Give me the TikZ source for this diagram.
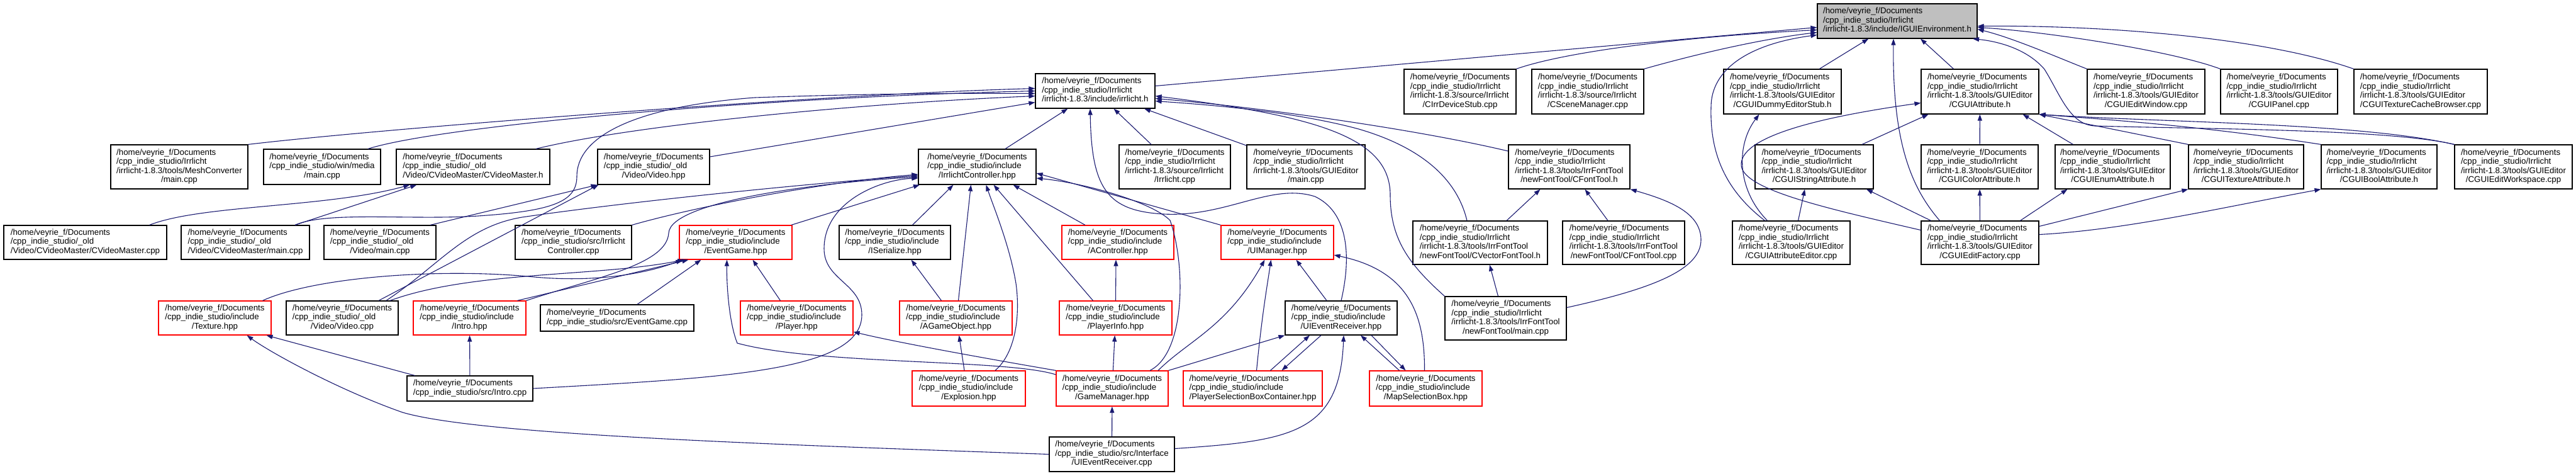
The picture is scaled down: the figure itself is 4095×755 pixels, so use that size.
\documentclass[tikz,border=0pt]{standalone}
\usepackage{fontspec}
\setmainfont{Liberation Sans}
\usetikzlibrary{arrows.meta,calc}
\definecolor{edgeblue}{HTML}{191970}
\definecolor{rootgray}{HTML}{BFBFBF}
\definecolor{redb}{HTML}{FF0000}
\newcommand{\hdoc}{/home/veyrie\_f/Documents}
\newcommand{\cirr}{/cpp\_indie\_studio/Irrlicht}
\newcommand{\cinc}{/cpp\_indie\_studio/include}
\newcommand{\cold}{/cpp\_indie\_studio/\_old}
\newcommand{\cgui}{/irrlicht-1.8.3/tools/GUIEditor}
\newcommand{\cfont}{/irrlicht-1.8.3/tools/IrrFontTool}
\newcommand{\lastl}[1]{\multicolumn{1}{@{}c@{}}{#1}}
\newcommand{\nlbl}[1]{\begin{tabular}{@{}l@{}}#1\end{tabular}}
\newcommand{\mkbox}[7]{\node[#1, minimum width={#4pt-#3pt}, minimum height={#6pt-#5pt}] (#2) at ({(#3+#4)/2},{(#5+#6)/2}) {\nlbl{#7}};}
\begin{document}
\begin{tikzpicture}[x=1pt,y=-1pt,
  nbox/.style={draw=black, fill=white, line width=1.2pt, inner sep=0pt, font=\fontsize{13.3}{14.5}\selectfont},
  rbox/.style={nbox, draw=redb},
  gbox/.style={nbox, fill=rootgray},
  dep/.style={draw=edgeblue, line width=1.1pt, -{Triangle[length=10pt,width=7pt]}}]
\useasboundingbox (0,0) rectangle (4095,755);
% row 1
\mkbox{gbox}{root}{2889}{3143}{6}{61}{\hdoc\\\cirr\\\lastl{/irrlicht-1.8.3/include/IGUIEnvironment.h}}
% row 2
\mkbox{nbox}{irrlicht}{1646}{1836}{117}{172}{\hdoc\\\cirr\\\lastl{/irrlicht-1.8.3/include/irrlicht.h}}
\mkbox{nbox}{devstub}{2232}{2410}{110}{181}{\hdoc\\\cirr\\/irrlicht-1.8.3/source/Irrlicht\\\lastl{/CIrrDeviceStub.cpp}}
\mkbox{nbox}{scenemgr}{2435}{2613}{110}{181}{\hdoc\\\cirr\\/irrlicht-1.8.3/source/Irrlicht\\\lastl{/CSceneManager.cpp}}
\mkbox{nbox}{dummy}{2740}{2927}{110}{181}{\hdoc\\\cirr\\\cgui\\\lastl{/CGUIDummyEditorStub.h}}
\mkbox{nbox}{guiattr}{3054}{3241}{110}{181}{\hdoc\\\cirr\\\cgui\\\lastl{/CGUIAttribute.h}}
\mkbox{nbox}{editwin}{3318}{3505}{110}{181}{\hdoc\\\cirr\\\cgui\\\lastl{/CGUIEditWindow.cpp}}
\mkbox{nbox}{panel}{3530}{3716}{110}{181}{\hdoc\\\cirr\\\cgui\\\lastl{/CGUIPanel.cpp}}
\mkbox{nbox}{texcache}{3742}{3954}{110}{181}{\hdoc\\\cirr\\\cgui\\\lastl{/CGUITextureCacheBrowser.cpp}}
% row 3
\mkbox{nbox}{meshconv}{176}{394}{230}{300}{\hdoc\\\cirr\\/irrlicht-1.8.3/tools/MeshConverter\\\lastl{/main.cpp}}
\mkbox{nbox}{winmain}{419}{605}{237}{293}{\hdoc\\/cpp\_indie\_studio/win/media\\\lastl{/main.cpp}}
\mkbox{nbox}{cvmh}{630}{874}{237}{293}{\hdoc\\\cold\\\lastl{/Video/CVideoMaster/CVideoMaster.h}}
\mkbox{nbox}{videohpp}{950}{1128}{237}{293}{\hdoc\\\cold\\\lastl{/Video/Video.hpp}}
\mkbox{nbox}{irrctrl}{1460}{1647}{237}{293}{\hdoc\\\cinc\\\lastl{/IrrlichtController.hpp}}
\mkbox{nbox}{irrcpp}{1779}{1956}{230}{300}{\hdoc\\\cirr\\/irrlicht-1.8.3/source/Irrlicht\\\lastl{/Irrlicht.cpp}}
\mkbox{nbox}{guimain}{1982}{2170}{230}{300}{\hdoc\\\cirr\\\cgui\\\lastl{/main.cpp}}
\mkbox{nbox}{cfonth}{2398}{2591}{230}{300}{\hdoc\\\cirr\\\cfont\\\lastl{/newFontTool/CFontTool.h}}
\mkbox{nbox}{strattr}{2790}{2978}{230}{300}{\hdoc\\\cirr\\\cgui\\\lastl{/CGUIStringAttribute.h}}
\mkbox{nbox}{colattr}{3054}{3240}{230}{300}{\hdoc\\\cirr\\\cgui\\\lastl{/CGUIColorAttribute.h}}
\mkbox{nbox}{enumattr}{3267}{3450}{230}{300}{\hdoc\\\cirr\\\cgui\\\lastl{/CGUIEnumAttribute.h}}
\mkbox{nbox}{texattr}{3479}{3662}{230}{300}{\hdoc\\\cirr\\\cgui\\\lastl{/CGUITextureAttribute.h}}
\mkbox{nbox}{boolattr}{3690}{3874}{230}{300}{\hdoc\\\cirr\\\cgui\\\lastl{/CGUIBoolAttribute.h}}
\mkbox{nbox}{workspace}{3902}{4089}{230}{300}{\hdoc\\\cirr\\\cgui\\\lastl{/CGUIEditWorkspace.cpp}}
% row 4
\mkbox{nbox}{cvmcpp}{6}{265}{358}{412}{\hdoc\\\cold\\\lastl{/Video/CVideoMaster/CVideoMaster.cpp}}
\mkbox{nbox}{cvmmain}{288}{492}{358}{412}{\hdoc\\\cold\\\lastl{/Video/CVideoMaster/main.cpp}}
\mkbox{nbox}{vmain}{515}{693}{358}{412}{\hdoc\\\cold\\\lastl{/Video/main.cpp}}
\mkbox{nbox}{srcctrl}{819}{1004}{358}{412}{\hdoc\\/cpp\_indie\_studio/src/Irrlicht\\\lastl{Controller.cpp}}
\mkbox{rbox}{eventgame}{1080}{1259}{358}{412}{\hdoc\\\cinc\\\lastl{/EventGame.hpp}}
\mkbox{nbox}{iserial}{1334}{1511}{358}{412}{\hdoc\\\cinc\\\lastl{/ISerialize.hpp}}
\mkbox{rbox}{actrl}{1688}{1866}{358}{412}{\hdoc\\\cinc\\\lastl{/AController.hpp}}
\mkbox{rbox}{uimgr}{1941}{2120}{358}{412}{\hdoc\\\cinc\\\lastl{/UIManager.hpp}}
\mkbox{nbox}{vecfont}{2246}{2460}{351}{420}{\hdoc\\\cirr\\\cfont\\\lastl{/newFontTool/CVectorFontTool.h}}
\mkbox{nbox}{cfontcpp}{2484}{2678}{351}{420}{\hdoc\\\cirr\\\cfont\\\lastl{/newFontTool/CFontTool.cpp}}
\mkbox{nbox}{attred}{2754}{2941}{351}{420}{\hdoc\\\cirr\\\cgui\\\lastl{/CGUIAttributeEditor.cpp}}
\mkbox{nbox}{editfac}{3054}{3241}{351}{420}{\hdoc\\\cirr\\\cgui\\\lastl{/CGUIEditFactory.cpp}}
% row 5
\mkbox{rbox}{texture}{252}{431}{478}{532}{\hdoc\\\cinc\\\lastl{/Texture.hpp}}
\mkbox{nbox}{videocpp}{455}{633}{478}{532}{\hdoc\\\cold\\\lastl{/Video/Video.cpp}}
\mkbox{rbox}{introhpp}{657}{836}{478}{532}{\hdoc\\\cinc\\\lastl{/Intro.hpp}}
\mkbox{nbox}{srcevent}{859}{1103}{484}{526}{\hdoc\\\lastl{/cpp\_indie\_studio/src/EventGame.cpp}}
\mkbox{rbox}{player}{1177}{1356}{478}{532}{\hdoc\\\cinc\\\lastl{/Player.hpp}}
\mkbox{rbox}{agame}{1430}{1609}{478}{532}{\hdoc\\\cinc\\\lastl{/AGameObject.hpp}}
\mkbox{rbox}{pinfo}{1684}{1863}{478}{532}{\hdoc\\\cinc\\\lastl{/PlayerInfo.hpp}}
\mkbox{nbox}{uievh}{2043}{2221}{478}{532}{\hdoc\\\cinc\\\lastl{/UIEventReceiver.hpp}}
\mkbox{nbox}{fontmain}{2297}{2490}{471}{540}{\hdoc\\\cirr\\\cfont\\\lastl{/newFontTool/main.cpp}}
% row 6
\mkbox{nbox}{introcpp}{647}{847}{597}{637}{\hdoc\\\lastl{/cpp\_indie\_studio/src/Intro.cpp}}
\mkbox{rbox}{explosion}{1450}{1630}{589}{645}{\hdoc\\\cinc\\\lastl{/Explosion.hpp}}
\mkbox{rbox}{gamemgr}{1679}{1857}{589}{645}{\hdoc\\\cinc\\\lastl{/GameManager.hpp}}
\mkbox{rbox}{psbc}{1881}{2102}{589}{645}{\hdoc\\\cinc\\\lastl{/PlayerSelectionBoxContainer.hpp}}
\mkbox{rbox}{mapsel}{2177}{2356}{589}{645}{\hdoc\\\cinc\\\lastl{/MapSelectionBox.hpp}}
% row 7
\mkbox{nbox}{uievcpp}{1668}{1867}{694}{749}{\hdoc\\/cpp\_indie\_studio/src/Interface\\\lastl{/UIEventReceiver.cpp}}

% ---- edges into IGUIEnvironment.h
\draw[dep] ($(irrlicht.east)+(0,-8)$) -- ($(root.west)+(0,10)$);
\draw[dep] (devstub.north east) .. controls (2480,85) and (2650,60) .. ($(root.west)+(0,14)$);
\draw[dep] (scenemgr.north east) .. controls (2700,85) and (2800,62) .. ($(root.west)+(0,18)$);
\draw[dep] ($(attred.north)+(-42,0)$) .. controls (2740,300) and (2718,240) .. (2720,170) .. controls (2720,110) and (2780,70) .. ($(root.west)+(0,22)$);
\draw[dep] (dummy) -- (root);
\draw[dep] ($(guiattr.north)+(-42,0)$) -- ($(root.south)+(37,0)$);
\draw[dep] ($(editfac.north)+(-64,0)$) .. controls (3040,300) and (3008,230) .. ($(root.south)+(-6,0)$);
\draw[dep] (workspace.north west) .. controls (3800,205) and (3500,205) .. (3330,200) .. controls (3290,198) and (3275,150) .. (3250,110) .. controls (3220,75) and (3170,65) .. ($(root.south)+(120,0)$);
\draw[dep] (editwin.north west) .. controls (3280,95) and (3200,60) .. ($(root.east)+(0,13)$);
\draw[dep] (panel.north west) .. controls (3450,80) and (3250,50) .. ($(root.east)+(0,10)$);
\draw[dep] (texcache.north west) .. controls (3600,60) and (3350,40) .. ($(root.east)+(0,8)$);

% ---- edges into irrlicht.h
\draw[dep] (meshconv.north east) .. controls (600,205) and (1300,150) .. ($(irrlicht.west)+(0,-4)$);
\draw[dep] ($(winmain.north)+(73,0)$) .. controls (700,200) and (1200,155) .. (irrlicht.west);
\draw[dep] ($(cvmmain.north)+(79,0)$) .. controls (520,335) and (650,350) .. (760,343) .. controls (880,335) and (917,320) .. (917,280) .. controls (917,220) and (1000,170) .. (1200,155) .. controls (1400,148) and (1550,148) .. ($(irrlicht.west)+(0,4)$);
\draw[dep] ($(cvmh.north)+(100,0)$) .. controls (1000,200) and (1350,165) .. ($(irrlicht.west)+(0,8)$);
\draw[dep] ($(videohpp.east)+(0,-16)$) -- ($(irrlicht.west)+(0,18)$);
\draw[dep] (irrctrl) -- (irrlicht);
\draw[dep] (irrcpp) -- (irrlicht);
\draw[dep] (guimain) -- (irrlicht);
\draw[dep] (uievh.north) .. controls (2150,400) and (2140,335) .. (2090,312) .. controls (2020,290) and (1950,345) .. (1850,340) .. controls (1760,335) and (1735,300) .. ($(irrlicht.south)+(-8,0)$);
\draw[dep] ($(cfonth.west)+(0,-25)$) .. controls (2250,205) and (2000,170) .. ($(irrlicht.east)+(0,12)$);
\draw[dep] (fontmain.north west) .. controls (2240,420) and (2210,380) .. (2210,310) .. controls (2210,220) and (2100,185) .. ($(irrlicht.east)+(0,8)$);
\draw[dep] ($(vecfont.north)+(-21,0)$) .. controls (2320,300) and (2280,240) .. (2160,205) .. controls (2050,175) and (1900,165) .. ($(irrlicht.east)+(0,16)$);

% ---- edges into IrrlichtController.hpp
\draw[dep] (srcctrl.north east) .. controls (1100,330) and (1300,290) .. ($(irrctrl.west)+(0,12)$);
\draw[dep] ($(videocpp.north)+(70,0)$) .. controls (700,420) and (740,360) .. (830,345) .. controls (1000,320) and (1300,290) .. ($(irrctrl.west)+(0,14)$);
\draw[dep] (introhpp.north east) .. controls (950,440) and (1060,420) .. (1063,370) .. controls (1066,320) and (1300,290) .. ($(irrctrl.west)+(0,16)$);
\draw[dep] (introcpp.east) .. controls (1150,600) and (1370,590) .. (1370,500) .. controls (1370,450) and (1310,445) .. (1310,395) .. controls (1310,320) and (1400,285) .. ($(irrctrl.west)+(0,18)$);
\draw[dep] (eventgame) -- (irrctrl);
\draw[dep] ($(iserial.north)+(28,0)$) -- ($(irrctrl.south)+(-38,0)$);
\draw[dep] ($(agame.north)+(4,0)$) -- ($(irrctrl.south)+(-10,0)$);
\draw[dep] ($(explosion.north)+(42,0)$) .. controls (1615,560) and (1622,500) .. (1615,450) .. controls (1605,390) and (1580,330) .. ($(irrctrl.south)+(14,0)$);
\draw[dep] ($(pinfo.north)+(-36,0)$) -- ($(irrctrl.south)+(26,0)$);
\draw[dep] ($(actrl.north)+(-52,0)$) -- ($(irrctrl.south)+(57,0)$);
\draw[dep] (uimgr.north west) -- ($(irrctrl.east)+(0,10)$);
\draw[dep] ($(gamemgr.north)+(60,0)$) .. controls (1885,560) and (1885,420) .. (1860,350) .. controls (1830,320) and (1720,290) .. ($(irrctrl.east)+(0,18)$);

% ---- edges into EventGame.hpp
\draw[dep] ($(texture.north)+(76,0)$) .. controls (500,440) and (700,425) .. (850,440) .. controls (960,450) and (1040,430) .. ($(eventgame.south west)+(5,0)$);
\draw[dep] ($(videocpp.north)+(76,0)$) .. controls (750,430) and (950,440) .. ($(eventgame.south west)+(8,0)$);
\draw[dep] ($(introhpp.north)+(76,0)$) -- ($(eventgame.south west)+(15,0)$);
\draw[dep] ($(srcevent.north)+(32,0)$) -- ($(eventgame.south)+(-55,0)$);
\draw[dep] ($(player.north)+(-26,0)$) -- ($(eventgame.south)+(27,0)$);
\draw[dep] ($(gamemgr.west)+(0,-22)$) .. controls (1600,570) and (1300,580) .. (1172,545) .. controls (1160,515) and (1155,460) .. ($(eventgame.south)+(-14,0)$);

% ---- other edges, left part
\draw[dep] (gamemgr.north west) .. controls (1600,575) and (1430,545) .. ($(player.east)+(0,22)$);
\draw[dep] ($(introcpp.north west)+(13,0)$) -- ($(texture.south)+(82,0)$);
\draw[dep] (uievcpp.west) .. controls (1200,705) and (760,690) .. (640,655) .. controls (540,620) and (430,560) .. ($(texture.south)+(51,0)$);
\draw[dep] (introcpp) -- (introhpp);
\draw[dep] ($(vmain.north)+(80,0)$) -- (videohpp.south west);
\draw[dep] ($(videocpp.north)+(58,0)$) -- ($(videohpp.south west)+(2,0)$);
\draw[dep] ($(cvmcpp.north)+(102,0)$) .. controls (320,325) and (520,330) .. ($(cvmh.south west)+(22,0)$);
\draw[dep] ($(cvmmain.north)+(79,0)$) -- ($(cvmh.south west)+(33,0)$);
\draw[dep] ($(explosion.north)+(-7,0)$) -- ($(agame.south)+(5,0)$);
\draw[dep] ($(agame.north)+(-23,0)$) -- ($(iserial.south)+(26,0)$);
\draw[dep] (pinfo.north) -- ($(actrl.south)+(-3,0)$);
\draw[dep] (gamemgr) -- (pinfo);
\draw[dep] (uievcpp) -- (gamemgr);

% ---- UIManager / UIEventReceiver
\draw[dep] ($(gamemgr.north)+(73,0)$) .. controls (1890,540) and (1950,520) .. ($(uimgr.south)+(-20,0)$);
\draw[dep] ($(psbc.north)+(6,0)$) .. controls (2006,500) and (2015,450) .. ($(uimgr.south)+(-10,0)$);
\draw[dep] ($(uievh.north)+(-23,0)$) -- ($(uimgr.south)+(30,0)$);
\draw[dep] ($(mapsel.north)+(-2,0)$) .. controls (2265,500) and (2240,430) .. ($(uimgr.east)+(0,20)$);
\draw[dep] (gamemgr.north east) -- (uievh.south west);
\draw[dep] ($(psbc.north)+(28,0)$) -- ($(uievh.south)+(-50,0)$);
\draw[dep] ($(uievh.south)+(-32,0)$) -- ($(psbc.north)+(46,0)$);
\draw[dep] ($(uievcpp.east)+(0,-9)$) .. controls (2050,700) and (2130,690) .. ($(uievh.south)+(4,0)$);
\draw[dep] ($(mapsel.north)+(-42,0)$) -- ($(uievh.south)+(31,0)$);
\draw[dep] ($(uievh.south)+(48,0)$) -- ($(mapsel.north)+(-32,0)$);

% ---- font tool
\draw[dep] ($(vecfont.north)+(42,0)$) -- ($(cfonth.south)+(-46,0)$);
\draw[dep] ($(cfontcpp.north)+(-25,0)$) -- ($(cfonth.south)+(25,0)$);
\draw[dep] ($(fontmain.east)+(0,-17)$) .. controls (2620,460) and (2705,430) .. (2704,380) .. controls (2703,340) and (2660,320) .. (cfonth.south east);
\draw[dep] ($(fontmain.north)+(-12,0)$) -- ($(vecfont.south)+(15,0)$);

% ---- GUI editor
\draw[dep] ($(strattr.north)+(76,0)$) -- ($(guiattr.south)+(-82,0)$);
\draw[dep] (colattr) -- (guiattr);
\draw[dep] ($(enumattr.north)+(-63,0)$) -- ($(guiattr.south)+(68,0)$);
\draw[dep] (texattr.north west) -- (guiattr.south east);
\draw[dep] (boolattr.north west) .. controls (3500,200) and (3350,190) .. (guiattr.south east);
\draw[dep] (workspace.north west) .. controls (3750,195) and (3450,195) .. (guiattr.south east);
\draw[dep] ($(editfac.west)+(0,-20)$) .. controls (2900,330) and (2765,300) .. (2768,260) .. controls (2770,215) and (2900,185) .. ($(guiattr.west)+(0,18)$);
\draw[dep] ($(attred.north)+(-38,0)$) .. controls (2760,300) and (2760,230) .. ($(dummy.south)+(-37,0)$);
\draw[dep] ($(attred.north)+(11,0)$) -- ($(strattr.south)+(-15,0)$);
\draw[dep] ($(editfac.north)+(-78,0)$) -- ($(strattr.south)+(83,0)$);
\draw[dep] (editfac) -- (colattr);
\draw[dep] ($(editfac.north)+(64,0)$) -- ($(enumattr.south)+(-72,0)$);
\draw[dep] ($(editfac.east)+(0,-26)$) -- (texattr.south west);
\draw[dep] ($(editfac.east)+(0,-13)$) .. controls (3380,365) and (3530,330) .. (boolattr.south west);
\end{tikzpicture}
\end{document}
